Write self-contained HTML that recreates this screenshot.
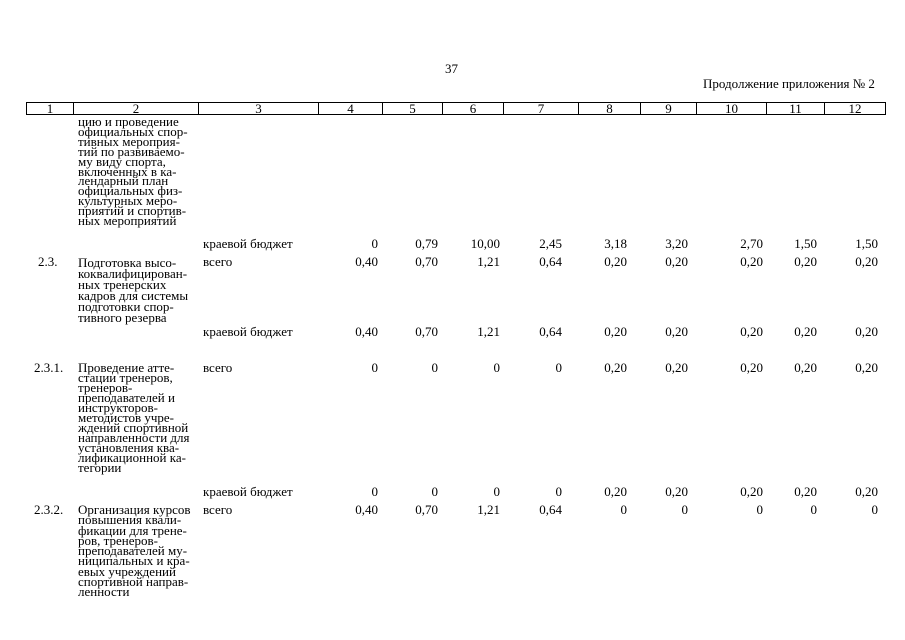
<!DOCTYPE html>
<html><head><meta charset="utf-8"><style>
body{margin:0;width:905px;height:640px;background:#fff;position:relative;overflow:hidden;font-family:"Liberation Serif",serif;font-size:13px;color:#000}
div{position:absolute;white-space:nowrap;line-height:10px}
.r{text-align:right;width:60px}
.t{line-height:9.9px}
table{position:absolute;left:26px;top:102px;border-collapse:collapse;height:13px}
td{border:1px solid #000;padding:0;text-align:center;font-size:13px;line-height:11px;height:11px}
</style></head><body>
<div style="left:445px;top:64px;font-size:13px">37</div>
<div style="left:703px;top:79px;font-size:13px">Продолжение приложения № 2</div>
<table><tr>
<td style="width:46px">1</td><td style="width:124px">2</td><td style="width:119px">3</td><td style="width:63px">4</td><td style="width:59px">5</td><td style="width:60px">6</td><td style="width:74px">7</td><td style="width:61px">8</td><td style="width:55px">9</td><td style="width:69px">10</td><td style="width:57px">11</td><td style="width:60px">12</td>
</tr></table>

<div class="t" style="left:78px;top:117px">цию и проведение<br>официальных спор-<br>тивных мероприя-<br>тий по развиваемо-<br>му виду спорта,<br>включенных в ка-<br>лендарный план<br>официальных физ-<br>культурных меро-<br>приятий и спортив-<br>ных мероприятий</div>

<div style="left:38px;top:257px">2.3.</div>
<div class="t" style="left:78px;top:257px;line-height:11px">Подготовка высо-<br>коквалифицирован-<br>ных тренерских<br>кадров для системы<br>подготовки спор-<br>тивного резерва</div>

<div style="left:34px;top:363px">2.3.1.</div>
<div class="t" style="left:78px;top:363px;line-height:10px">Проведение атте-<br>стации тренеров,<br>тренеров-<br>преподавателей и<br>инструкторов-<br>методистов учре-<br>ждений спортивной<br>направленности для<br>установления ква-<br>лификационной ка-<br>тегории</div>

<div style="left:34px;top:505px">2.3.2.</div>
<div class="t" style="left:78px;top:505px;line-height:10.3px">Организация курсов<br>повышения квали-<br>фикации для трене-<br>ров, тренеров-<br>преподавателей му-<br>ниципальных и кра-<br>евых учреждений<br>спортивной направ-<br>ленности</div>

<div style="left:203px;top:239px">краевой бюджет</div>
<div style="left:203px;top:257px">всего</div>
<div style="left:203px;top:327px">краевой бюджет</div>
<div style="left:203px;top:363px">всего</div>
<div style="left:203px;top:487px">краевой бюджет</div>
<div style="left:203px;top:505px">всего</div>

<div style="top:239px;left:0">
<div class="r" style="left:318px">0</div><div class="r" style="left:378px">0,79</div><div class="r" style="left:440px">10,00</div><div class="r" style="left:502px">2,45</div><div class="r" style="left:567px">3,18</div><div class="r" style="left:628px">3,20</div><div class="r" style="left:703px">2,70</div><div class="r" style="left:757px">1,50</div><div class="r" style="left:818px">1,50</div></div>
<div style="top:257px;left:0">
<div class="r" style="left:318px">0,40</div><div class="r" style="left:378px">0,70</div><div class="r" style="left:440px">1,21</div><div class="r" style="left:502px">0,64</div><div class="r" style="left:567px">0,20</div><div class="r" style="left:628px">0,20</div><div class="r" style="left:703px">0,20</div><div class="r" style="left:757px">0,20</div><div class="r" style="left:818px">0,20</div></div>
<div style="top:327px;left:0">
<div class="r" style="left:318px">0,40</div><div class="r" style="left:378px">0,70</div><div class="r" style="left:440px">1,21</div><div class="r" style="left:502px">0,64</div><div class="r" style="left:567px">0,20</div><div class="r" style="left:628px">0,20</div><div class="r" style="left:703px">0,20</div><div class="r" style="left:757px">0,20</div><div class="r" style="left:818px">0,20</div></div>
<div style="top:363px;left:0">
<div class="r" style="left:318px">0</div><div class="r" style="left:378px">0</div><div class="r" style="left:440px">0</div><div class="r" style="left:502px">0</div><div class="r" style="left:567px">0,20</div><div class="r" style="left:628px">0,20</div><div class="r" style="left:703px">0,20</div><div class="r" style="left:757px">0,20</div><div class="r" style="left:818px">0,20</div></div>
<div style="top:487px;left:0">
<div class="r" style="left:318px">0</div><div class="r" style="left:378px">0</div><div class="r" style="left:440px">0</div><div class="r" style="left:502px">0</div><div class="r" style="left:567px">0,20</div><div class="r" style="left:628px">0,20</div><div class="r" style="left:703px">0,20</div><div class="r" style="left:757px">0,20</div><div class="r" style="left:818px">0,20</div></div>
<div style="top:505px;left:0">
<div class="r" style="left:318px">0,40</div><div class="r" style="left:378px">0,70</div><div class="r" style="left:440px">1,21</div><div class="r" style="left:502px">0,64</div><div class="r" style="left:567px">0</div><div class="r" style="left:628px">0</div><div class="r" style="left:703px">0</div><div class="r" style="left:757px">0</div><div class="r" style="left:818px">0</div></div>
</body></html>
